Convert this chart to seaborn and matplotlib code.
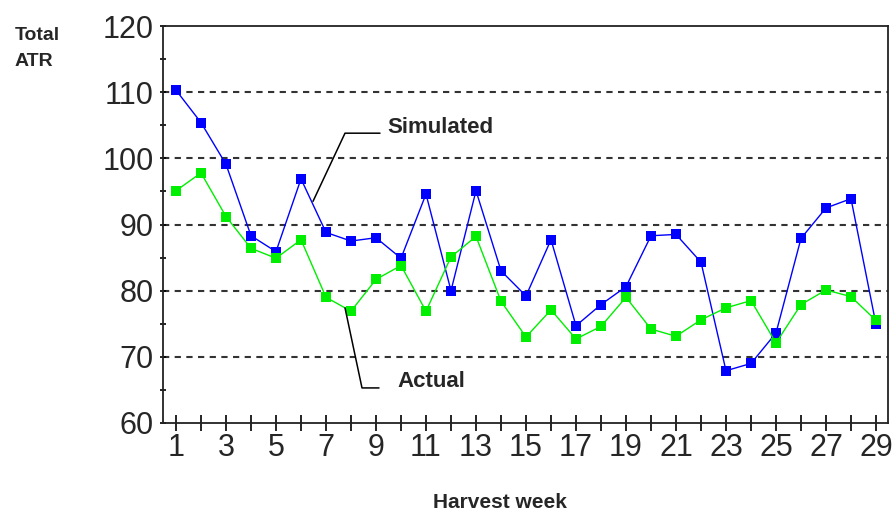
import matplotlib
matplotlib.use('Agg')
import matplotlib.pyplot as plt
import seaborn as sns
import pandas as pd

# data
weeks = list(range(1, 30))
simulated = [110.3, 105.4, 99.1, 88.3, 85.9, 96.9, 88.8, 87.5, 88.0, 84.9,
             94.6, 80.0, 95.1, 83.0, 79.2, 87.7, 74.7, 77.9, 80.6, 88.3,
             88.5, 84.3, 67.9, 69.0, 73.6, 87.9, 92.5, 93.9, 74.9]
actual = [95.1, 97.8, 91.2, 86.4, 84.9, 87.7, 79.0, 76.9, 81.7, 83.8,
          76.9, 85.1, 88.2, 78.4, 73.0, 77.1, 72.7, 74.6, 79.0, 74.2,
          73.1, 75.6, 77.4, 78.5, 72.1, 77.9, 80.1, 79.1, 75.5]
series_names = ['Simulated', 'Actual']
y_ticks = [60, 70, 80, 90, 100, 110, 120]
x_labels = [str(w) if w % 2 == 1 else '' for w in weeks]

df = pd.DataFrame({
    'week': weeks * 2,
    'value': simulated + actual,
    'series': ['Simulated'] * len(weeks) + ['Actual'] * len(weeks),
})

sns.set_style('white')
plt.rcParams['font.family'] = ['Liberation Sans', 'DejaVu Sans']

fig = plt.figure(figsize=(8.92, 5.12), dpi=100)
ax = fig.add_axes([163 / 892, 89 / 512, 725 / 892, 397 / 512])

sns.lineplot(data=df, x='week', y='value', hue='series', hue_order=series_names,
             palette={'Simulated': '#0000ff', 'Actual': '#00ee00'},
             marker='s', markersize=7, markeredgewidth=0, linewidth=1.0,
             legend=False, ax=ax)

ax.set_xlim(0.48, 29.48)
ax.set_ylim(60, 120)
ax.set_xticks(weeks)
ax.set_xticklabels(x_labels)
ax.set_yticks(y_ticks)
ax.set_yticks([65, 75, 85, 95, 105, 115], minor=True)
ax.set_xlabel('')
ax.set_ylabel('')

ax.tick_params(axis='x', which='major', direction='inout', length=12, width=1.2,
               color='black', labelsize=22, pad=1, bottom=True)
ax.tick_params(axis='y', which='both', direction='inout', length=5, width=1.2,
               color='black', labelsize=22, pad=4, left=True)

for s in ax.spines.values():
    s.set_color('#222222')
    s.set_linewidth(1.3)

for v in y_ticks[1:-1]:
    ax.axhline(v, color='#333333', linewidth=1.5, linestyle=(0, (3, 2.6)), zorder=0)

# leader lines for the two labels
sim_leader_x = [6.48, 7.76, 9.16]
sim_leader_y = [93.5, 103.8, 103.8]
act_leader_x = [7.76, 8.44, 9.12]
act_leader_y = [77.4, 65.3, 65.3]
ax.plot(sim_leader_x, sim_leader_y, color='black', linewidth=1.1)
ax.plot(act_leader_x, act_leader_y, color='black', linewidth=1.1)
ax.text(9.44, 104.7, 'Simulated', fontsize=16, fontweight='bold', va='center', ha='left')
ax.text(9.84, 66.2, 'Actual', fontsize=16, fontweight='bold', va='center', ha='left')

fig.text(15 / 892, 1 - 35 / 512, 'Total', fontsize=14, fontweight='bold', va='center', ha='left')
fig.text(15 / 892, 1 - 62 / 512, 'ATR', fontsize=14, fontweight='bold', va='center', ha='left')
fig.text(500 / 892, 1 - 502 / 512, 'Harvest week', fontsize=15, fontweight='bold',
         va='center', ha='center')

fig.savefig('out.png', dpi=100)
plt.close(fig)
